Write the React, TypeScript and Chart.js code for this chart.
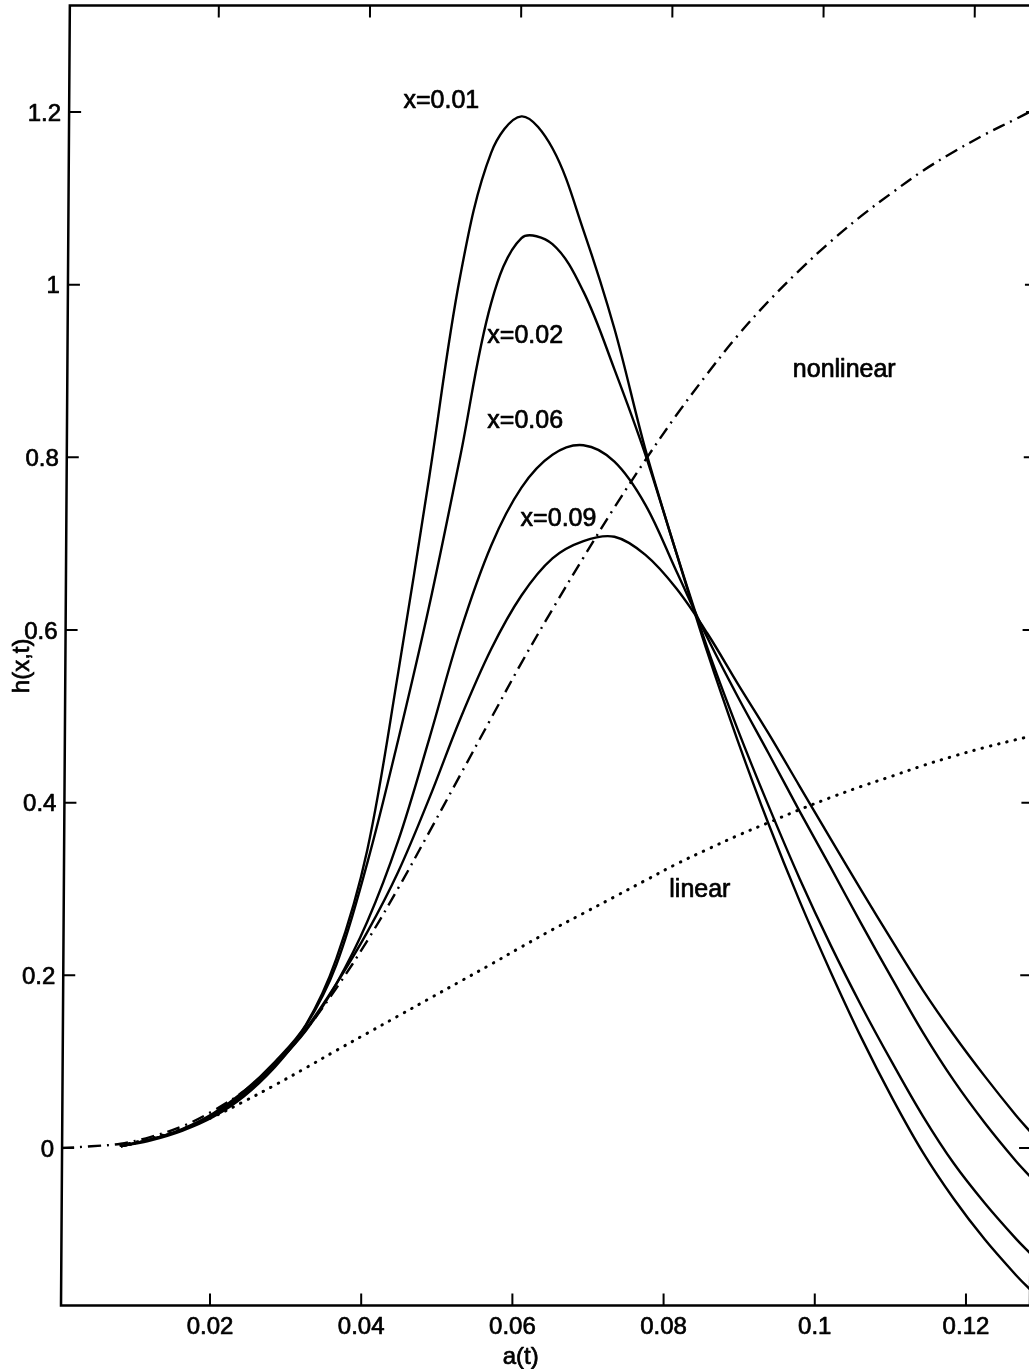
import { useEffect, useRef } from 'react';
import { Chart, registerables } from 'chart.js';

Chart.register(...registerables);

// ---------- data ----------
const A_T = [
  0.0003, 0.0043, 0.0082, 0.0122, 0.0163, 0.0204, 0.0245, 0.0286, 0.0327, 0.0367,
  0.0408, 0.0449, 0.049, 0.0531, 0.0572, 0.0612, 0.0653, 0.0694, 0.0735, 0.0776,
  0.0817, 0.0858, 0.0898, 0.0939, 0.098, 0.1021, 0.1062, 0.1103, 0.1143, 0.1184,
  0.1225, 0.1266, 0.1286,
];

const H_X001 = [
  null, null, 0.002, 0.01, 0.022, 0.04, 0.066, 0.1, 0.143, 0.219,
  0.345, 0.551, 0.777, 1.01, 1.153, 1.195, 1.158, 1.063, 0.949, 0.809,
  0.689, 0.574, 0.472, 0.375, 0.286, 0.204, 0.127, 0.057, -0.005, -0.059,
  -0.106, -0.147, -0.165,
];

const H_X002 = [
  null, null, 0.002, 0.01, 0.021, 0.039, 0.064, 0.098, 0.142, 0.212,
  0.33, 0.473, 0.628, 0.801, 0.979, 1.054, 1.047, 0.992, 0.902, 0.803,
  0.689, 0.579, 0.485, 0.396, 0.312, 0.235, 0.164, 0.098, 0.037, -0.018,
  -0.064, -0.105, -0.123,
];

const H_X006 = [
  null, null, 0.002, 0.01, 0.021, 0.038, 0.062, 0.096, 0.136, 0.19,
  0.262, 0.356, 0.474, 0.598, 0.698, 0.765, 0.803, 0.814, 0.795, 0.745,
  0.668, 0.591, 0.523, 0.457, 0.39, 0.325, 0.259, 0.195, 0.134, 0.078,
  0.029, -0.015, -0.034,
];

const H_X009 = [
  null, null, 0.002, 0.009, 0.02, 0.036, 0.06, 0.094, 0.138, 0.19,
  0.25, 0.32, 0.405, 0.497, 0.578, 0.64, 0.683, 0.703, 0.708, 0.687,
  0.648, 0.596, 0.538, 0.48, 0.419, 0.358, 0.298, 0.239, 0.183, 0.131,
  0.083, 0.038, 0.018,
];

const H_NONLINEAR = [
  0.0, 0.002, 0.005, 0.013, 0.025, 0.043, 0.066, 0.097, 0.137, 0.185,
  0.24, 0.301, 0.366, 0.432, 0.498, 0.562, 0.624, 0.684, 0.742, 0.797,
  0.849, 0.897, 0.941, 0.981, 1.017, 1.05, 1.08, 1.107, 1.132, 1.154,
  1.174, 1.192, 1.201,
];

const H_LINEAR = [
  null, null, 0.003, 0.011, 0.022, 0.036, 0.054, 0.073, 0.093, 0.113,
  0.133, 0.153, 0.173, 0.193, 0.213, 0.233, 0.253, 0.272, 0.291, 0.31,
  0.329, 0.346, 0.362, 0.377, 0.392, 0.406, 0.419, 0.431, 0.443, 0.454,
  0.464, 0.473, 0.477,
];

const X_TICKS = [0.02, 0.04, 0.06, 0.08, 0.1, 0.12];
const X_TICK_LABELS = ['0.02', '0.04', '0.06', '0.08', '0.1', '0.12'];
const Y_TICKS = [0, 0.2, 0.4, 0.6, 0.8, 1, 1.2];
const Y_TICK_LABELS = ['0', '0.2', '0.4', '0.6', '0.8', '1', '1.2'];

const X_TITLE = 'a(t)';
const Y_TITLE = 'h(x,t)';

const CURVE_LABELS = ['x=0.01', 'x=0.02', 'x=0.06', 'x=0.09', 'nonlinear', 'linear'];
const CURVE_LABEL_AT_X = [0.0506, 0.0617, 0.0617, 0.0661, 0.1039, 0.0848];
const CURVE_LABEL_AT_Y = [1.2155, 0.943, 0.845, 0.731, 0.9035, 0.3012];

// ---------- layout ----------
const X_MIN = 0.00029;
const X_MAX = 0.12847;
const Y_MIN = -0.1824;
const Y_MAX = 1.3234;
const SHEAR = 0.0068; // scanned frame leans slightly to the right at the top
const FONT = '"Liberation Sans", Arial, Helvetica, sans-serif';

const toPoints = (ys: (number | null)[]) =>
  A_T.map((x, i) => ({ x, y: ys[i] })).filter((p) => p.y !== null) as { x: number; y: number }[];

const drawText = (ctx: CanvasRenderingContext2D, t: string, x: number, y: number) => {
  ctx.fillText(t, x, y);
  ctx.strokeText(t, x, y);
};

const framePlugin = {
  id: 'frameAndText',
  afterDraw(chart: any) {
    const { ctx, chartArea: a, scales } = chart;
    const xs = scales.x;
    const ys = scales.y;
    const sh = (py: number) => SHEAR * (a.bottom - py);
    ctx.save();
    ctx.strokeStyle = '#000';
    ctx.fillStyle = '#000';
    ctx.lineCap = 'butt';

    // frame
    ctx.lineWidth = 2.5;
    ctx.beginPath();
    ctx.moveTo(a.left, a.bottom);
    ctx.lineTo(a.left + sh(a.top), a.top);
    ctx.lineTo(a.right + sh(a.top), a.top);
    ctx.lineTo(a.right, a.bottom);
    ctx.closePath();
    ctx.stroke();

    // inward ticks
    ctx.lineWidth = 2;
    const tl = 12;
    X_TICKS.forEach((v) => {
      const px = xs.getPixelForValue(v);
      ctx.beginPath();
      ctx.moveTo(px, a.bottom);
      ctx.lineTo(px, a.bottom - tl);
      ctx.moveTo(px + sh(a.top), a.top);
      ctx.lineTo(px + sh(a.top + tl), a.top + tl);
      ctx.stroke();
    });
    Y_TICKS.forEach((v) => {
      const py = ys.getPixelForValue(v);
      ctx.beginPath();
      ctx.moveTo(a.left + sh(py), py);
      ctx.lineTo(a.left + sh(py) + tl, py);
      ctx.moveTo(a.right + sh(py), py);
      ctx.lineTo(a.right + sh(py) - tl, py);
      ctx.stroke();
    });

    // tick labels
    ctx.lineWidth = 0.7;
    ctx.lineJoin = 'round';
    ctx.font = `24px ${FONT}`;
    ctx.textBaseline = 'alphabetic';
    ctx.textAlign = 'center';
    X_TICKS.forEach((v, i) => {
      drawText(ctx, X_TICK_LABELS[i], xs.getPixelForValue(v), a.bottom + 28);
    });
    ctx.textAlign = 'right';
    Y_TICKS.forEach((v, i) => {
      const py = ys.getPixelForValue(v);
      drawText(ctx, Y_TICK_LABELS[i], a.left + sh(py) - 8, py + 8.5);
    });

    // axis titles
    ctx.textAlign = 'center';
    drawText(ctx, X_TITLE, xs.getPixelForValue(0.0611), a.bottom + 58.5);
    ctx.save();
    ctx.translate(29, ys.getPixelForValue(0.5585));
    ctx.rotate(-Math.PI / 2);
    drawText(ctx, Y_TITLE, 0, 0);
    ctx.restore();

    // curve labels
    ctx.font = `25px ${FONT}`;
    CURVE_LABELS.forEach((t, i) => {
      const px = xs.getPixelForValue(CURVE_LABEL_AT_X[i]);
      const py = ys.getPixelForValue(CURVE_LABEL_AT_Y[i]);
      drawText(ctx, t, px, py + 9);
    });
    ctx.restore();
  },
};

const solid = (ys: (number | null)[]) => ({
  data: toPoints(ys),
  borderColor: '#000',
  borderWidth: 2.4,
  pointRadius: 0,
  fill: false,
  tension: 0.35,
});

export default function App() {
  const ref = useRef<HTMLCanvasElement | null>(null);

  useEffect(() => {
    if (!ref.current) return;
    const chart = new Chart(ref.current, {
      type: 'line',
      data: {
        datasets: [
          solid(H_X001),
          solid(H_X002),
          solid(H_X006),
          solid(H_X009),
          {
            data: toPoints(H_NONLINEAR),
            borderColor: '#000',
            borderWidth: 2.4,
            borderDash: [13, 6, 2, 6],
            pointRadius: 0,
            fill: false,
            tension: 0.35,
          },
          {
            data: toPoints(H_LINEAR),
            borderColor: '#000',
            borderWidth: 3,
            borderCapStyle: 'round',
            borderDash: [0.5, 8],
            pointRadius: 0,
            fill: false,
            tension: 0.35,
          },
        ],
      },
      options: {
        animation: false,
        responsive: false,
        devicePixelRatio: 1,
        events: [],
        layout: { padding: { left: 61, top: 5.5, right: 10, bottom: 63.5 } },
        plugins: { legend: { display: false }, tooltip: { enabled: false }, title: { display: false } },
        scales: {
          x: { type: 'linear', min: X_MIN, max: X_MAX, display: false },
          y: { type: 'linear', min: Y_MIN, max: Y_MAX, display: false },
        },
      },
      plugins: [framePlugin],
    });
    return () => chart.destroy();
  }, []);

  return (
    <div
      style={{
        position: 'fixed',
        left: 0,
        top: 0,
        width: 1029,
        height: 1369,
        overflow: 'hidden',
        background: '#fff',
      }}
    >
      <canvas ref={ref} width={1040} height={1369} style={{ display: 'block', width: 1040, height: 1369 }} />
    </div>
  );
}
